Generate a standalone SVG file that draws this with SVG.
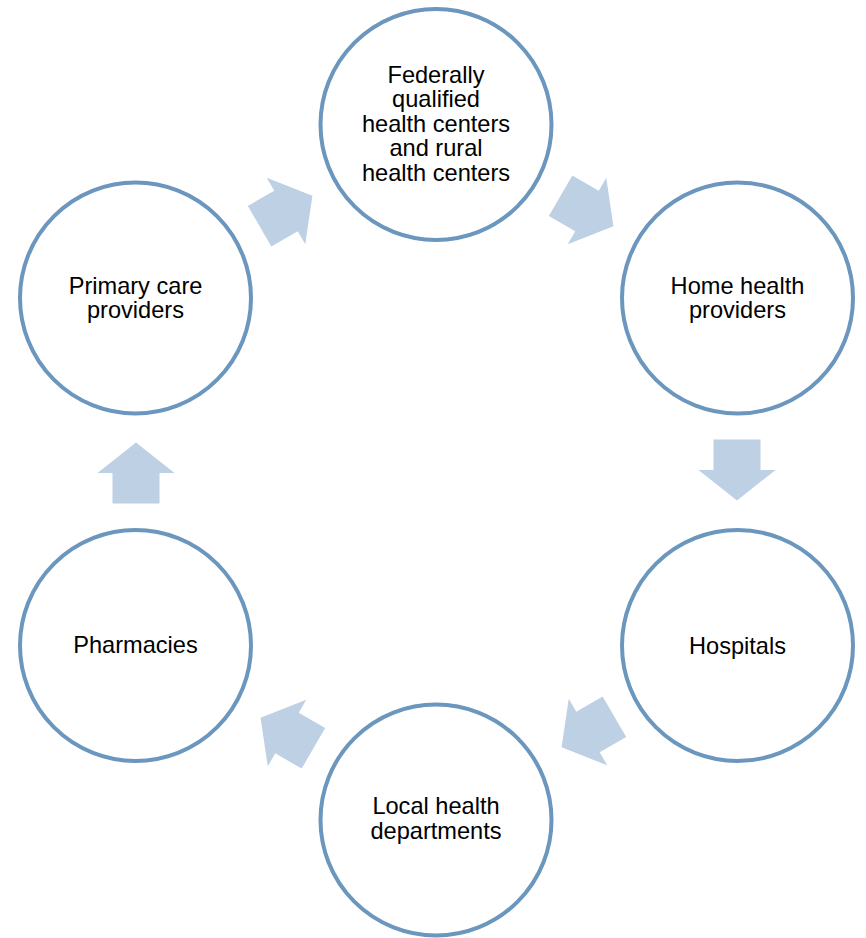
<svg xmlns="http://www.w3.org/2000/svg" width="866" height="938" viewBox="0 0 866 938">
<style>
.node circle{fill:#ffffff;stroke:#6b96bd;stroke-width:4}
.node text{font-family:"Liberation Sans",Arial,sans-serif;font-size:23.6px;fill:#000;text-anchor:middle}
.arrow{fill:#bdd0e4}
</style>
<defs>
<path id="arr" d="M-30.5,-23.5 L0,-23.5 L0,-38.5 L30.5,0 L0,38.5 L0,23.5 L-30.5,23.5 Z"/>
</defs>
<rect width="866" height="938" fill="#ffffff"/>
<g id="connectors">
<use href="#arr" class="arrow" transform="translate(587,211) rotate(30)"/>
<use href="#arr" class="arrow" transform="translate(737,470) rotate(90)"/>
<use href="#arr" class="arrow" transform="translate(588,732) rotate(150)"/>
<use href="#arr" class="arrow" transform="translate(287,733) rotate(210)"/>
<use href="#arr" class="arrow" transform="translate(136,473) rotate(270)"/>
<use href="#arr" class="arrow" transform="translate(286,211) rotate(330)"/>
</g>
<g id="fqhc" class="node">
<circle cx="436" cy="124.5" r="115.5"/>
<text x="436" y="82.5">Federally</text>
<text x="436" y="107">qualified</text>
<text x="436" y="131.5">health centers</text>
<text x="436" y="156">and rural</text>
<text x="436" y="180.5">health centers</text>
</g>
<g id="home" class="node">
<circle cx="737.5" cy="298" r="115.5"/>
<text x="737.5" y="293.5">Home health</text>
<text x="737.5" y="318">providers</text>
</g>
<g id="hospitals" class="node">
<circle cx="737.5" cy="645.5" r="115.5"/>
<text x="737.5" y="653.5">Hospitals</text>
</g>
<g id="local" class="node">
<circle cx="436" cy="820" r="115.5"/>
<text x="436" y="814">Local health</text>
<text x="436" y="838.5">departments</text>
</g>
<g id="pharmacies" class="node">
<circle cx="135.5" cy="645.5" r="115.5"/>
<text x="135.5" y="653">Pharmacies</text>
</g>
<g id="primary" class="node">
<circle cx="135.5" cy="298" r="115.5"/>
<text x="135.5" y="293.5">Primary care</text>
<text x="135.5" y="318">providers</text>
</g>
</svg>
